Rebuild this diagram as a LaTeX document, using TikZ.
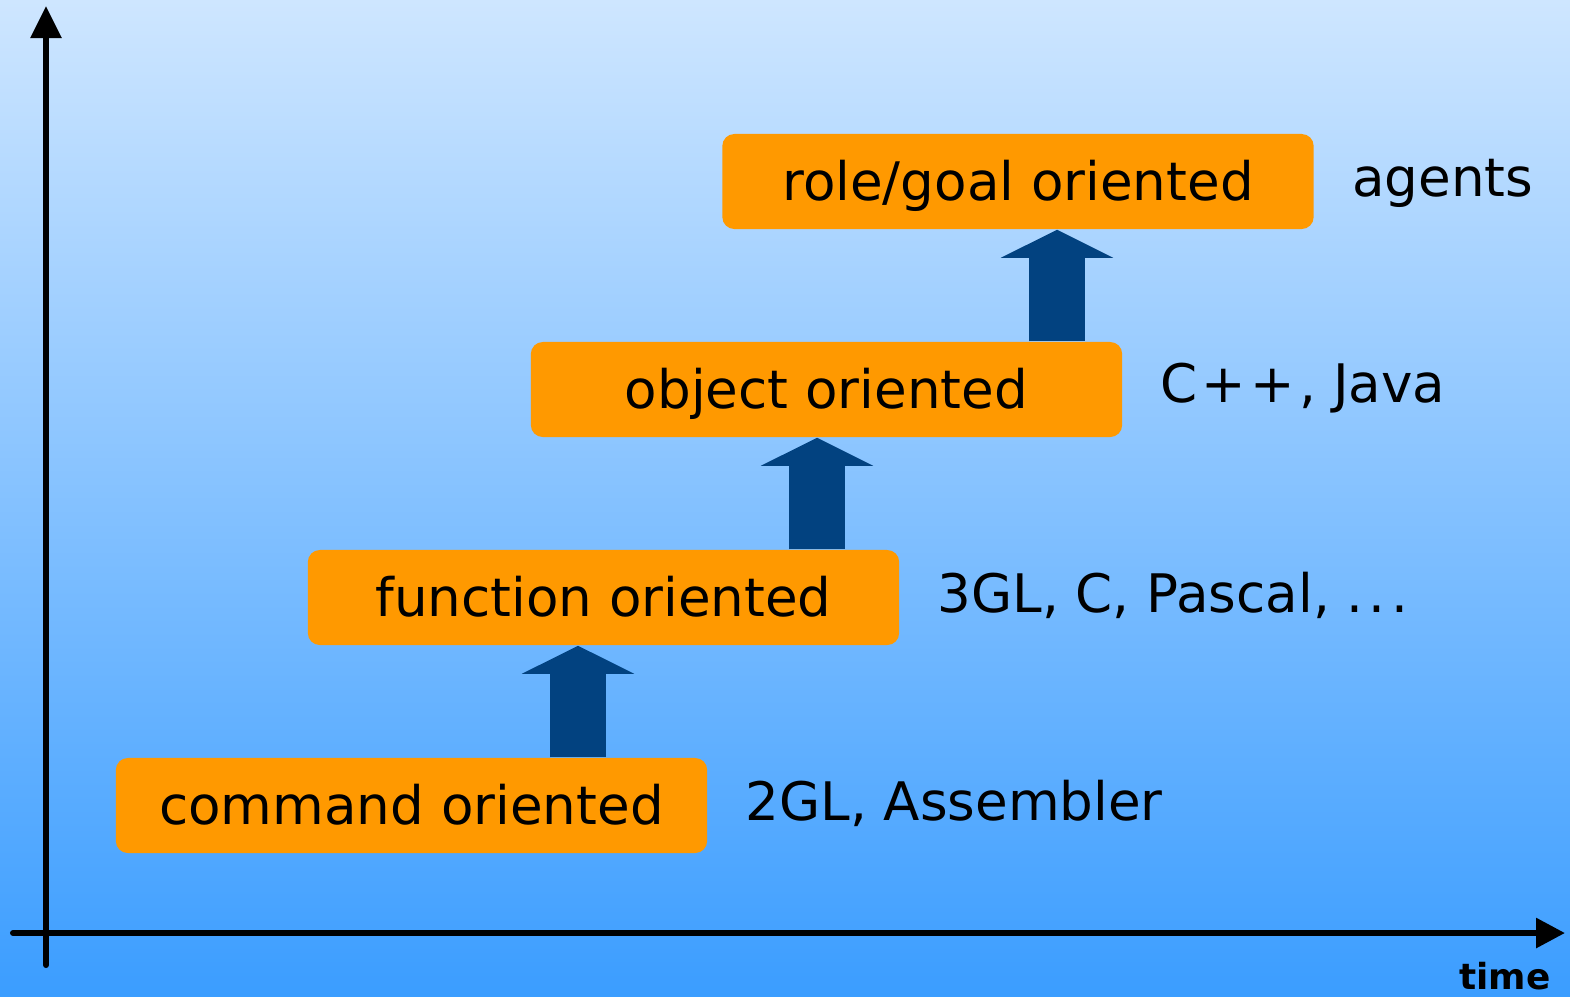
\documentclass[tikz,border=0pt]{standalone}
\usepackage{fontspec}
\setmainfont{DejaVu Sans}
\usetikzlibrary{arrows.meta}
\definecolor{bgtop}{RGB}{206,230,255}
\definecolor{bgbot}{RGB}{59,157,255}
\definecolor{boxorange}{RGB}{255,153,0}
\definecolor{arrowblue}{RGB}{2,66,128}
\tikzset{
  stagebox/.style={rectangle, rounded corners=0.12cm, fill=boxorange, draw=none,
    minimum width=5.91cm, minimum height=0.95cm, inner sep=0pt,
    text height=0.37cm, text depth=0cm,
    font=\fontsize{15.1pt}{18pt}\selectfont},
  langlabel/.style={anchor=base west, inner sep=0pt,
    font=\fontsize{15.1pt}{18pt}\selectfont},
  blockarrow/.style={draw=arrowblue, line width=0.56cm,
    -{Triangle[width=1.11cm,length=0.28cm]}, arrowblue},
  axis/.style={draw=black, line width=0.06cm, line cap=round}
}
\begin{document}
\begin{tikzpicture}[x=0.01cm,y=-0.01cm]
\useasboundingbox (0,0) rectangle (1570,996);
\shade[top color=bgtop, bottom color=bgbot] (0,0) rectangle (1570,996);

% axes
\coordinate (yfrom) at (46,965);
\coordinate (yto) at (46,6);
\coordinate (xfrom) at (13,933);
\coordinate (xto) at (1565,933);
\draw[axis, -{Triangle[width=0.30cm,length=0.32cm]}] (yfrom) -- (yto);
\draw[axis, -{Triangle[width=0.29cm,length=0.29cm]}] (xfrom) -- (xto);
\node[anchor=base east, inner sep=0pt, font=\fontsize{10.2pt}{12pt}\selectfont\bfseries] (time) at (1551,989) {time};

% boxes
\node[stagebox] (b1) at (411.5,805.5) {command oriented};
\node[stagebox] (b2) at (603.5,597.5) {function oriented};
\node[stagebox] (b3) at (826.5,389.5) {object oriented};
\node[stagebox] (b4) at (1018,181.5) {role/goal oriented};

% labels
\node[langlabel] (l1) at ([shift={(37,15)}]b1.east) {2GL, Assembler};
\node[langlabel] (l2) at ([shift={(37,15)}]b2.east) {3GL, C, Pascal, .\kern0.1em.\kern0.1em.};
\node[langlabel] (l3) at ([shift={(37,13)}]b3.east) {C\kern0.08em+\kern0.08em+\kern0.08em, Java};
\node[langlabel] (l4) at ([shift={(37,15)}]b4.east) {agents};

% block arrows
\coordinate (ax1) at (578,0);
\coordinate (ax2) at (817,0);
\coordinate (ax3) at (1057,0);
\draw[blockarrow] (b1.north -| ax1) -- (b2.south -| ax1);
\draw[blockarrow] (b2.north -| ax2) -- (b3.south -| ax2);
\draw[blockarrow] (b3.north -| ax3) -- (b4.south -| ax3);
\end{tikzpicture}
\end{document}
